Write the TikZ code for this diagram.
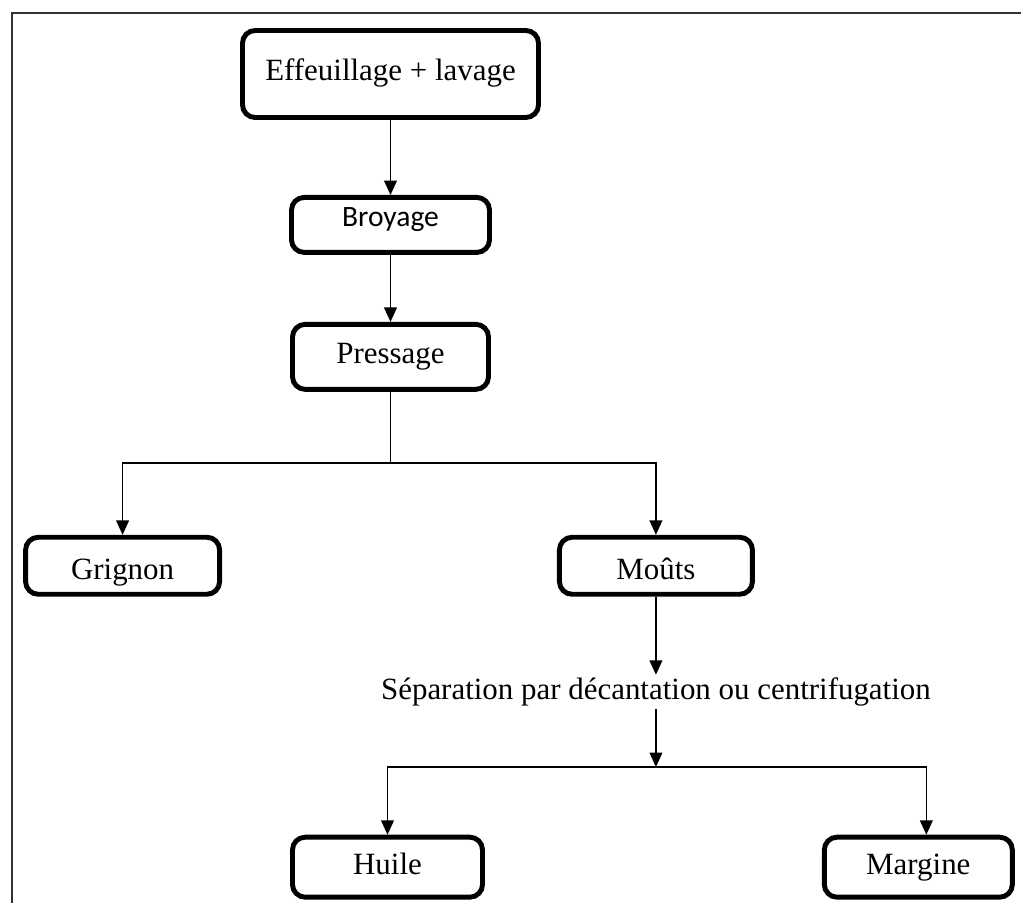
\documentclass[tikz,border=0pt]{standalone}
\usepackage{fontspec}
\setmainfont{Liberation Serif}
\newfontfamily\calibrifont{Carlito}
\usetikzlibrary{arrows.meta,positioning}

\begin{document}
\begin{tikzpicture}[
  every node/.style={align=center,font=\fontsize{22}{26}\selectfont},
  box/.style={draw,line width=3.5pt,rectangle,rounded corners=9pt,fill=white,text height=15.4pt,text depth=5.5pt},
  lowtext/.style={text height=22pt,text depth=2.2pt},
  plain/.style={inner sep=2pt},
  arr/.style={-{Triangle[length=0.36cm,width=0.32cm]},line width=1pt},
  link/.style={line width=1pt}
]
\useasboundingbox (0,0) rectangle (25.525,-22.55);
\draw[line width=1.4pt,black!80] (0.29,-22.6) |- (25.6,-0.325);

\node[box,minimum width=7.4cm,minimum height=2.175cm] (eff) at (9.7625,-1.85) {Effeuillage + lavage};
\node[box,minimum width=4.95cm,minimum height=1.375cm,below=1.875cm of eff,text height=11pt,text depth=9pt,font=\calibrifont\fontsize{21}{24}\selectfont] (broy) {Broyage};
\node[box,minimum width=4.9cm,minimum height=1.625cm,below=1.675cm of broy] (press) {Pressage};
\node[box,lowtext,minimum width=4.85cm,minimum height=1.425cm,below left=3.575cm and 1.7cm of press] (grig) {Grignon};
\node[box,lowtext,minimum width=4.825cm,minimum height=1.425cm,below right=3.575cm and 1.65cm of press] (mouts) {Moûts};
\node[plain,below=1.95cm of mouts] (sep) {Séparation par décantation ou centrifugation};
\node[box,minimum width=4.75cm,minimum height=1.5cm,below left=5.95cm and 1.8cm of mouts] (huile) {Huile};
\node[box,minimum width=4.7cm,minimum height=1.5cm,below right=5.95cm and 1.675cm of mouts] (marg) {Margine};

\coordinate[below=1.775cm of press.south] (split1);
\coordinate (split2) at (sep.south |- 0,-19.175);

\draw[arr] (eff) -- (broy);
\draw[arr] (broy) -- (press);
\draw[link] (press) -- (split1);
\draw[arr] (split1) -| (grig);
\draw[arr] (split1) -| (mouts);
\draw[arr] (mouts) -- (sep);
\draw[arr] (sep) -- (split2);
\draw[arr] (split2) -| (huile);
\draw[arr] (split2) -| ([xshift=0.2cm]marg.north);
\end{tikzpicture}
\end{document}
